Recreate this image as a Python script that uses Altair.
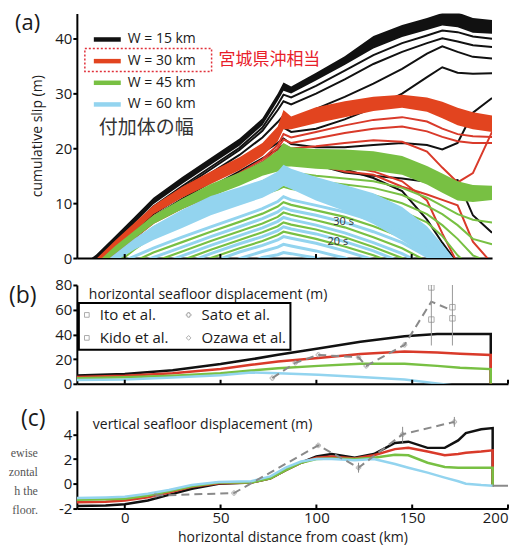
import altair as alt
import pandas as pd

FONT = "Open Sans"
BLACK = "#111111"
RED = "#e2441f"
RED_LINE = "#d93a2a"
GREEN = "#78c043"
BLUE = "#93d4ef"
GRAY = "#8a8a8a"
TXT = "#1a1a1a"

# ---------------- panel (a): cumulative slip snapshots ----------------
XA = [-25, -15, -5, 5, 15, 30, 45, 60, 72, 80, 83, 87, 100, 115, 130, 145, 158, 166, 174, 182, 192]

K_HI = [-2, 0.6, 4.0, 7.5, 11.0, 14.8, 18.3, 21.8, 25.5, 30.0, 32.0, 31.3, 33.8, 36.8, 40.5, 42.5, 43.8, 44.7, 44.8, 43.8, 43.4]
K_LO = [-3, -0.6, 2.9, 6.3, 9.8, 13.5, 17.0, 20.5, 24.2, 28.7, 30.5, 30.0, 32.4, 35.2, 38.2, 40.3, 41.6, 42.4, 42.1, 41.1, 40.9]
K1 = [-4, -1.0, 2.5, 6.0, 9.4, 13.1, 16.6, 20.1, 23.8, 28.0, 29.8, 29.3, 31.4, 34.2, 37.0, 39.2, 40.6, 41.5, 41.2, 40.4, 40.0]
K2 = [-4, -1.3, 2.2, 5.6, 9.0, 12.7, 16.2, 19.7, 23.2, 27.0, 28.6, 28.0, 30.0, 32.6, 35.4, 37.6, 39.2, 40.1, 39.5, 38.8, 38.5]
K3 = [-4, -1.6, 1.9, 5.2, 8.5, 12.1, 15.5, 18.8, 22.0, 24.8, 26.0, 25.2, 27.2, 29.4, 31.8, 34.5, 37.3, 38.6, 37.6, 36.7, 36.4]
K4 = [-4, -1.9, 1.6, 4.8, 8.0, 11.4, 14.6, 17.7, 20.6, 22.8, 23.8, 23.0, 23.6, 25.3, 27.4, 30.0, 33.0, 34.8, 33.8, 33.6, 33.7]
K5 = [-4, -2.2, 1.3, 4.4, 7.5, 10.8, 13.8, 16.6, 19.2, 21.0, 21.8, 20.8, 20.2, 20.2, 20.6, 21.0, 20.6, 19.8, 21.0, 26.5, 29.2]
K6 = [-4, -2.5, 1.0, 4.0, 7.0, 10.2, 13.0, 15.8, 18.2, 19.8, 20.6, 19.6, 17.8, 16.2, 14.6, 12.2, 7.0, 2.8, -1.0, -3, -4]
K7 = [-4, -2.8, 0.7, 3.6, 6.6, 9.7, 12.5, 15.2, 17.5, 19.0, 19.8, 18.8, 17.0, 15.6, 15.0, 14.5, 13.9, 13.8, 14.2, 7.8, 4.6]

R_HI = [-3, -0.2, 3.2, 6.4, 9.6, 13.0, 15.8, 18.4, 21.0, 24.0, 27.0, 25.8, 27.5, 28.6, 29.4, 29.8, 29.3, 28.5, 27.4, 26.6, 26.0]
R_LO = [-4, -1.5, 1.8, 4.8, 8.0, 11.0, 13.5, 16.0, 18.6, 21.3, 23.5, 23.5, 24.6, 25.7, 26.8, 27.4, 26.7, 25.5, 24.2, 23.5, 23.0]
R1 = [-4, -1.8, 1.5, 4.5, 7.6, 10.4, 12.6, 15.5, 18.0, 20.6, 22.6, 22.0, 23.0, 24.2, 25.2, 25.7, 24.9, 23.6, 22.6, 22.2, 22.1]
R2 = [-4, -2.0, 1.3, 4.3, 7.3, 10.0, 12.3, 15.1, 17.5, 20.0, 21.6, 21.0, 21.8, 22.8, 23.6, 24.0, 23.1, 22.1, 21.3, 21.0, 21.0]
R3 = [-4, -2.2, 1.1, 4.1, 7.0, 9.7, 12.0, 14.7, 17.0, 19.4, 20.6, 20.0, 20.4, 21.0, 21.5, 21.2, 19.4, 16.5, 13.8, 15.5, 23.0]
R4 = [-4, -2.4, 0.9, 3.8, 6.7, 9.4, 11.6, 14.2, 16.5, 18.8, 19.8, 19.0, 18.0, 16.8, 15.8, 14.0, 10.5, 4.5, -1.0, -3, -4]
R5 = [-4, -2.6, 0.7, 3.6, 6.4, 9.1, 11.3, 13.8, 16.0, 18.2, 19.2, 18.4, 17.0, 15.8, 15.2, 13.0, 11.6, 10.6, 9.6, 3.0, -1.0]

G_HI = [-3, -1.0, 2.2, 5.0, 7.8, 10.8, 13.5, 15.6, 17.6, 19.6, 21.0, 20.2, 19.9, 19.8, 19.5, 18.6, 16.8, 15.4, 14.0, 13.3, 13.2]
G_LO = [-4, -2.0, 0.8, 3.5, 6.2, 8.9, 11.2, 13.2, 15.0, 15.8, 16.7, 16.7, 16.3, 16.0, 15.9, 15.2, 13.4, 11.9, 10.5, 10.2, 10.6]
G1 = [-4, -2.5, 0.3, 3.0, 5.6, 8.2, 10.2, 12.3, 14.0, 15.2, 16.0, 15.6, 15.0, 14.5, 14.0, 12.8, 11.0, 9.5, 8.0, 7.0, 6.5]
G2 = [-4, -3.0, -0.2, 2.5, 5.0, 7.6, 9.6, 11.6, 13.2, 14.3, 15.0, 14.6, 14.0, 13.4, 12.8, 11.5, 9.5, 8.0, 6.0, 3.5, 2.5]
G3 = [-4, -3.5, -0.7, 2.0, 4.5, 7.0, 9.0, 10.9, 12.4, 13.4, 14.0, 13.6, 13.0, 12.2, 11.5, 10.0, 8.0, 6.0, 3.5, 0.5, -1.0]
G4 = [-4, -4, -1.2, 1.5, 4.0, 6.4, 8.4, 10.2, 11.6, 12.5, 13.0, 12.6, 12.0, 11.0, 10.0, 8.5, 6.5, 4.0, 0.5, -2, -4]
GT1 = [-4, -4, -2.0, -0.6, 1.0, 2.9, 4.8, 6.6, 8.1, 9.4, 10.2, 9.7, 8.7, 7.5, 5.8, 3.8, 1.3, -0.6, -2.0, -4, -4]
GT2 = [-4, -4, -4, -2.5, -0.7, 1.2, 3.1, 4.9, 6.3, 7.5, 8.3, 7.9, 6.9, 5.6, 3.8, 1.8, -0.6, -2.0, -4, -4, -4]
GT3 = [-4, -4, -4, -4, -2.5, -0.4, 1.5, 3.3, 4.7, 5.8, 6.5, 6.1, 5.2, 3.8, 2.0, 0.0, -2.0, -4, -4, -4, -4]
GT4 = [-4, -4, -4, -4, -4, -2.0, 0.0, 1.8, 3.1, 4.2, 4.8, 4.5, 3.5, 2.1, 0.5, -1.5, -4, -4, -4, -4, -4]

B_HI = [-4, -2.0, 0.8, 3.5, 5.9, 8.8, 11.3, 12.9, 14.3, 15.8, 17.0, 16.3, 14.8, 13.3, 11.8, 9.3, 5.8, 2.5, -1.0, -3, -3]
B_LO = [-6, -4.0, -0.6, 1.5, 3.3, 5.5, 7.8, 9.6, 11.0, 12.4, 13.2, 12.6, 10.5, 8.6, 6.2, 3.2, 0.2, -2.0, -4, -5, -5]
T1 = [-4, -3.0, -1.2, 0.3, 1.8, 3.8, 5.7, 7.5, 9.0, 10.3, 11.2, 10.6, 9.6, 8.4, 6.8, 4.8, 2.3, 0.4, -1.5, -3, -4]
T2 = [-4, -4, -3.0, -1.2, 0.1, 2.0, 3.9, 5.7, 7.2, 8.4, 9.2, 8.7, 7.8, 6.5, 4.8, 2.8, 0.3, -1.5, -3, -4, -4]
T3 = [-4, -4, -4, -3.0, -1.5, 0.4, 2.3, 4.1, 5.5, 6.7, 7.4, 7.0, 6.0, 4.6, 2.8, 0.8, -1.5, -3, -4, -4, -4]
T4 = [-4, -4, -4, -4, -3.0, -1.2, 0.8, 2.6, 3.9, 5.0, 5.7, 5.3, 4.4, 3.0, 1.3, -0.8, -3, -4, -4, -4, -4]
T5 = [-4, -4, -4, -4, -4, -3.0, -0.8, 1.1, 2.3, 3.3, 3.9, 3.6, 2.7, 1.3, -0.3, -2, -4, -4, -4, -4, -4]
T6 = [-4, -4, -4, -4, -4, -4, -2.5, -0.1, 1.2, 2.0, 2.5, 2.2, 1.3, 0.0, -2, -4, -4, -4, -4, -4, -4]
T7 = [-4, -4, -4, -4, -4, -4, -4, -1.5, 0.1, 0.6, 1.0, 0.8, 0.0, -1.5, -4, -4, -4, -4, -4, -4, -4]

TIME_LABELS = ["30 s", "20 s"]
TIME_X = [109, 106]
TIME_Y = [6.6, 3.0]

LEGEND_A = ["W = 15 km", "W = 30 km", "W = 45 km", "W = 60 km"]
LEGEND_A_COLORS = [BLACK, RED, GREEN, BLUE]

# ---------------- panel (b): horizontal seafloor displacement ----------------
XB = [-25, 0, 25, 50, 66, 80, 101, 123, 146, 163, 175, 191, 191]
HB_K = [6.8, 8.0, 11.0, 16.0, 19.8, 23.5, 28.5, 34.0, 38.5, 40.4, 40.4, 40.4, 0]
HB_R = [5.5, 6.5, 8.5, 12.0, 15.4, 18.0, 20.8, 24.2, 26.1, 25.3, 24.3, 23.4, 0]
HB_G = [4.5, 5.2, 6.5, 8.5, 10.7, 12.5, 14.5, 16.2, 16.2, 14.5, 13.0, 11.9, 0]
HB_B = [3.0, 3.5, 5.0, 7.0, 9.1, 8.6, 7.3, 5.5, 3.5, 0.3, -2.0, -5, -5]
OBS_B_X = [77, 89, 101, 122, 126, 146, 160, 170]
OBS_B_Y = [4.6, 17.0, 23.4, 21.5, 14.5, 31.5, 66.5, 60.0]
ITO_X = [160, 160, 171, 171]
ITO_Y = [78, 52, 62, 53]
ITO_BAR_X = [160, 171]
ITO_BAR_LO = [31, 31]
ITO_BAR_HI = [80, 80]
LEGEND_B = ["Ito et al.", "Sato et al.", "Kido et al.", "Ozawa et al."]

# ---------------- panel (c): vertical seafloor displacement ----------------
XC = [-25, -10, 0, 12, 23, 35, 49, 66, 76, 84, 92, 100, 108, 120, 130, 141, 148, 158, 167, 174, 178, 186, 192, 192]
VC_K = [-1.8, -1.75, -1.65, -1.35, -0.9, -0.4, 0.0, 0.1, 0.45, 1.1, 1.7, 2.2, 2.4, 2.1, 2.4, 3.3, 3.4, 2.9, 2.9, 3.5, 4.1, 4.4, 4.5, -0.2]
VC_R = [-1.5, -1.45, -1.35, -1.1, -0.7, -0.25, 0.05, 0.1, 0.45, 1.1, 1.7, 2.1, 2.2, 2.05, 2.3, 2.8, 2.9, 2.6, 2.3, 2.4, 2.5, 2.6, 2.7, -0.2]
VC_G = [-1.3, -1.25, -1.2, -0.95, -0.6, -0.2, 0.1, 0.1, 0.45, 1.1, 1.7, 2.0, 2.05, 2.0, 2.1, 2.35, 2.3, 1.7, 1.35, 1.3, 1.3, 1.3, 1.3, -0.2]
VC_B = [-1.15, -1.1, -1.05, -0.8, -0.5, -0.1, 0.15, 0.2, 0.6, 1.3, 1.8, 2.0, 2.0, 1.9, 2.0, 1.6, 1.3, 0.9, 0.5, 0.2, 0.0, -0.1, -0.15, -0.15]
OBS_C_X = [16, 57, 101, 122, 145, 172]
OBS_C_Y = [-0.95, -0.75, 3.1, 1.3, 4.0, 5.0]
ERR_C_X = [122, 145, 172]
ERR_C_LO = [0.9, 3.3, 4.6]
ERR_C_HI = [1.7, 4.6, 5.4]
TAIL_C_X = [192, 200]
TAIL_C_Y = [-0.15, -0.15]

SIDE_TEXT = ["ewise", "zontal", "h the", "floor."]

# ---------------- helpers ----------------
DUMMY = alt.Data(values=[{"a": 1}])

WA, HA = 416, 245
WB, HB = 432, 99
WC, HC = 432, 98

XS_A = alt.Scale(domain=[-25, 192], nice=False, zero=False)
YS_A = alt.Scale(domain=[0, 44.6], nice=False, zero=False)
XS_B = alt.Scale(domain=[-25, 200], nice=False, zero=False)
YS_B = alt.Scale(domain=[0, 80], nice=False, zero=False)
YS_C = alt.Scale(domain=[-2, 5.9], nice=False, zero=False)

YTICK = dict(ticks=True, tickSize=4, tickWidth=2, tickColor="black", labelPadding=1, grid=False)
AX_X_NOLAB = alt.Axis(labels=False, ticks=False, title=None, grid=False)
AX_X_C = alt.Axis(values=[0, 50, 100, 150, 200], ticks=False, grid=False, labelPadding=2,
                  title="horizontal distance from coast (km)", labelFlush=True, titlePadding=5)
AX_Y_A = alt.Axis(values=[0, 10, 20, 30, 40], title="cumulative slip (m)", titlePadding=10, **YTICK)
AX_Y_B = alt.Axis(values=[0, 20, 40, 60, 80], title=None, **YTICK)
AX_Y_C = alt.Axis(values=[-2, 0, 2, 4], title=None, labelExpr="'' + datum.value", **YTICK)


def txt(s, x, y, size=14, color=TXT, align="left", font=FONT, **kw):
    return alt.Chart(DUMMY).mark_text(text=s, align=align, baseline="middle", font=font,
                                      fontSize=size, color=color, **kw).encode(
        x=alt.value(x), y=alt.value(y))


def hrule(x1, x2, y, color, w):
    return alt.Chart(DUMMY).mark_rule(color=color, strokeWidth=w).encode(
        x=alt.value(x1), x2=alt.value(x2), y=alt.value(y))


def band(xs, ys, xax, yax, hi, lo, color):
    df = pd.DataFrame({"x": XA, "hi": hi, "lo": lo})
    return alt.Chart(df).mark_area(color=color, clip=True, opacity=1).encode(
        x=alt.X("x:Q", scale=xs, axis=xax), y=alt.Y("hi:Q", scale=ys, axis=yax), y2="lo:Q")


def lines(xvals, named, xs, ys, xax, yax, color, w, dash=None):
    rows = []
    for name, vals in named.items():
        for i, (x, y) in enumerate(zip(xvals, vals)):
            rows.append({"x": x, "y": y, "s": name, "i": i})
    kw = {}
    if dash:
        kw["strokeDash"] = dash
    return alt.Chart(pd.DataFrame(rows)).mark_line(color=color, strokeWidth=w, clip=True, **kw).encode(
        x=alt.X("x:Q", scale=xs, axis=xax), y=alt.Y("y:Q", scale=ys, axis=yax),
        detail="s:N", order="i:Q")


def xticks(xvals, xs, xax, H):
    return alt.Chart(pd.DataFrame({"t": xvals})).mark_rule(color="black", strokeWidth=2).encode(
        x=alt.X("t:Q", scale=xs, axis=xax), y=alt.value(H), y2=alt.value(H - 4))


# ---------------- panel (a) ----------------
pa = dict(xs=XS_A, ys=YS_A, xax=AX_X_NOLAB, yax=AX_Y_A)
layers_a = [
    band(hi=K_HI, lo=K_LO, color=BLACK, **pa),
    lines(XA, {"K1": K1, "K2": K2, "K3": K3, "K4": K4, "K5": K5, "K6": K6, "K7": K7}, color=BLACK, w=2, **pa),
    band(hi=R_HI, lo=R_LO, color=RED, **pa),
    lines(XA, {"R1": R1, "R2": R2, "R3": R3, "R4": R4, "R5": R5}, color=RED_LINE, w=2, **pa),
    band(hi=G_HI, lo=G_LO, color=GREEN, **pa),
    lines(XA, {"G1": G1, "G2": G2, "G3": G3, "G4": G4}, color=GREEN, w=2, **pa),
    lines(XA, {"GT1": GT1, "GT2": GT2, "GT3": GT3, "GT4": GT4}, color=GREEN, w=2.2, **pa),
    band(hi=B_HI, lo=B_LO, color=BLUE, **pa),
    lines(XA, {"T1": T1, "T2": T2, "T3": T3, "T4": T4, "T5": T5, "T6": T6, "T7": T7}, color=BLUE, w=3, **pa),
    alt.Chart(pd.DataFrame({"x": TIME_X, "y": TIME_Y, "t": TIME_LABELS})).mark_text(
        font=FONT, fontSize=11, color="#333", align="left", baseline="middle").encode(
        x=alt.X("x:Q", scale=XS_A, axis=AX_X_NOLAB), y=alt.Y("y:Q", scale=YS_A, axis=AX_Y_A), text="t:N"),
    xticks([0, 50, 100, 150], XS_A, AX_X_NOLAB, HA),
]
for k, (lab, col) in enumerate(zip(LEGEND_A, LEGEND_A_COLORS)):
    yy = 26 + k * 21.7
    layers_a.append(hrule(17, 44, yy, col, 4.5))
    layers_a.append(txt(lab, 51, yy, size=14))
layers_a.append(alt.Chart(DUMMY).mark_rect(fillOpacity=0, stroke="#e0303a", strokeDash=[2, 2],
                                           strokeWidth=1.5).encode(
    x=alt.value(8), x2=alt.value(135), y=alt.value(35), y2=alt.value(58)))
layers_a.append(txt("宮城県沖相当", 142, 47, size=17, color="#e8202a", font="Noto Sans CJK JP"))
layers_a.append(txt("付加体の幅", 22, 115, size=19, color="#333", font="Noto Sans CJK JP"))
layers_a.append(txt("(a)", -62, 10, size=22))
panel_a = alt.layer(*layers_a).properties(width=WA, height=HA)

# ---------------- panel (b) ----------------
pb = dict(xs=XS_B, ys=YS_B, xax=AX_X_NOLAB, yax=AX_Y_B)
layers_b = [
    lines(XB, {"a": HB_K}, color=BLACK, w=2.5, **pb),
    lines(XB, {"b": HB_R}, color=RED_LINE, w=2.5, **pb),
    lines(XB, {"c": HB_G}, color=GREEN, w=2.5, **pb),
    lines(XB, {"d": HB_B}, color=BLUE, w=2.5, **pb),
    lines(OBS_B_X, {"o": OBS_B_Y}, color=GRAY, w=2, dash=[8, 5], **pb),
    alt.Chart(pd.DataFrame({"x": ITO_BAR_X, "lo": ITO_BAR_LO, "hi": ITO_BAR_HI})).mark_rule(
        color="#9a9a9a", strokeWidth=1, clip=True).encode(
        x=alt.X("x:Q", scale=XS_B, axis=AX_X_NOLAB), y=alt.Y("lo:Q", scale=YS_B, axis=AX_Y_B), y2="hi:Q"),
    alt.Chart(pd.DataFrame({"x": ITO_X, "y": ITO_Y})).mark_point(
        shape="square", size=30, color=GRAY, filled=False, strokeWidth=1, clip=True).encode(
        x=alt.X("x:Q", scale=XS_B, axis=AX_X_NOLAB), y=alt.Y("y:Q", scale=YS_B, axis=AX_Y_B)),
    alt.Chart(pd.DataFrame({"x": OBS_B_X[:6], "y": OBS_B_Y[:6]})).mark_point(
        shape="cross", size=20, color=GRAY, filled=False, strokeWidth=0.8, clip=True).encode(
        x=alt.X("x:Q", scale=XS_B, axis=AX_X_NOLAB), y=alt.Y("y:Q", scale=YS_B, axis=AX_Y_B)),
    xticks([0, 50, 100, 150, 200], XS_B, AX_X_NOLAB, HB),
]
layers_b.append(txt("horizontal seafloor displacement (m)", 12, 10.5, size=14))
layers_b.append(alt.Chart(DUMMY).mark_rect(fill="white", stroke="black", strokeWidth=2).encode(
    x=alt.value(2), x2=alt.value(214), y=alt.value(18), y2=alt.value(65)))
for k, (lab, shp) in enumerate(zip(LEGEND_B, ["square", "cross", "square", "diamond"])):
    cx = 10 if k % 2 == 0 else 112
    cy = 30 if k < 2 else 53
    layers_b.append(alt.Chart(DUMMY).mark_point(shape=shp, size=22, color=GRAY, filled=False,
                                                strokeWidth=1).encode(x=alt.value(cx), y=alt.value(cy)))
    layers_b.append(txt(lab, cx + 13, cy, size=15))
layers_b.append(txt("(b)", -68, 11, size=23))
# transparent spacer below panel (b) so that panel (c) sits a little lower
layers_b.append(txt(".", 0, HB + 6, size=12, opacity=0))
panel_b = alt.layer(*layers_b).properties(width=WB, height=HB)

# ---------------- panel (c) ----------------
pc = dict(xs=XS_B, ys=YS_C, xax=AX_X_C, yax=AX_Y_C)
layers_c = [
    lines(XC, {"a": VC_K}, color=BLACK, w=2.5, **pc),
    lines(XC, {"b": VC_R}, color=RED_LINE, w=2.5, **pc),
    lines(XC, {"c": VC_G}, color=GREEN, w=2.5, **pc),
    lines(XC, {"d": VC_B}, color=BLUE, w=2.5, **pc),
    lines(TAIL_C_X, {"e": TAIL_C_Y}, color=GRAY, w=2, **pc),
    lines(OBS_C_X, {"o": OBS_C_Y}, color=GRAY, w=2, dash=[8, 5], **pc),
    alt.Chart(pd.DataFrame({"x": ERR_C_X, "lo": ERR_C_LO, "hi": ERR_C_HI})).mark_rule(
        color=GRAY, strokeWidth=1).encode(
        x=alt.X("x:Q", scale=XS_B, axis=AX_X_C), y=alt.Y("lo:Q", scale=YS_C, axis=AX_Y_C), y2="hi:Q"),
    alt.Chart(pd.DataFrame({"x": OBS_C_X, "y": OBS_C_Y})).mark_point(
        shape="cross", size=20, color=GRAY, filled=False, strokeWidth=0.8).encode(
        x=alt.X("x:Q", scale=XS_B, axis=AX_X_C), y=alt.Y("y:Q", scale=YS_C, axis=AX_Y_C)),
    xticks([0, 50, 100, 150, 200], XS_B, AX_X_C, HC),
]
layers_c.append(txt("vertical seafloor displacement (m)", 16, 14, size=14))
layers_c.append(txt("(c)", -56, 8, size=23))
for k, s in enumerate(SIDE_TEXT):
    layers_c.append(txt(s, -39, 42 + k * 19.3, size=12, color="#555", align="right",
                        font="Liberation Serif"))
panel_c = alt.layer(*layers_c).properties(width=WC, height=HC)

chart = alt.vconcat(panel_a, panel_b, panel_c).properties(
    padding={"left": 0, "top": 4, "right": 0, "bottom": 0}
).configure_axis(
    labelFont=FONT, labelFontSize=15, labelColor=TXT, titleFont=FONT, titleFontSize=14,
    titleFontWeight="normal", titleColor=TXT, domainColor="black", domainWidth=2,
    ticks=False, grid=False, labelPadding=4
).configure_view(stroke=None).configure_concat(spacing=12)

chart.save("out.html", embed_options={"renderer": "svg", "actions": False})
